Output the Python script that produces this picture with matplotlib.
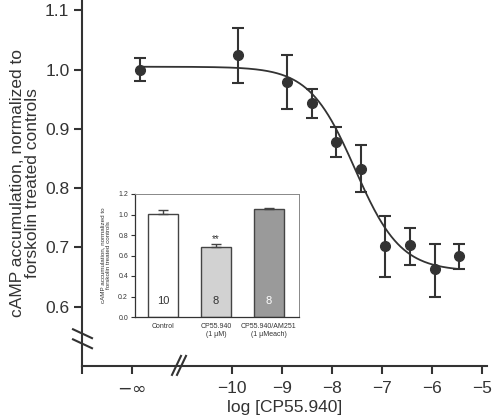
import numpy as np
import matplotlib.pyplot as plt

plt.rcParams['font.family'] = ['Liberation Sans', 'DejaVu Sans']

# main dose-response data (log concentration, -11.85 stands for -inf)
log_conc = [-11.85, -9.89, -8.9, -8.41, -7.92, -7.43, -6.95, -6.45, -5.95, -5.47]
camp = [1.000, 1.025, 0.980, 0.944, 0.878, 0.833, 0.703, 0.704, 0.664, 0.685]
err_hi = [1.019, 1.071, 1.025, 0.967, 0.904, 0.873, 0.753, 0.733, 0.706, 0.706]
err_lo = [0.981, 0.978, 0.934, 0.919, 0.852, 0.793, 0.650, 0.671, 0.617, 0.664]

# fitted curve parameters
top, bottom, log_ic50, hill = 1.005, 0.66, -7.54, 0.95

# inset bars
bar_labels = ['Control', 'CP55.940\n(1 µM)', 'CP55.940/AM251\n(1 µMeach)']
bar_vals = [1.002, 0.683, 1.054]
bar_err = [0.042, 0.026, 0.009]
bar_n = ['10', '8', '8']
bar_colors = ['white', '#d2d2d2', '#9a9a9a']
n_colors = ['#333333', '#333333', 'white']

xticks = [-12, -10, -9, -8, -7, -6, -5]
xticklabels = ['$-\\infty$', '−10', '−9', '−8', '−7', '−6', '−5']
yticks = [0.6, 0.7, 0.8, 0.9, 1.0, 1.1]

dark = '#333333'

fig = plt.figure(figsize=(4.93, 4.2), dpi=100)
ax = fig.add_axes([82/493, 54/420, 405/493, 366/420])

xs = np.linspace(log_conc[0], log_conc[-1], 300)
ys = bottom + (top - bottom) / (1 + 10**((xs - log_ic50) * hill))
ax.plot(xs, ys, color=dark, lw=1.3)

yerr = [np.array(camp) - np.array(err_lo), np.array(err_hi) - np.array(camp)]
ax.errorbar(log_conc, camp, yerr=yerr, fmt='o', color=dark, ms=7,
            elinewidth=1.5, capsize=4, capthick=1.5)

ax.set_xlim(-13, -4.9)
ax.set_ylim(0.5, 1.1176)
ax.set_xticks([-13] + xticks)
ax.set_xticklabels([''] + xticklabels, fontsize=12.5)
ax.set_yticks(yticks)
ax.set_yticklabels(['%.1f' % v for v in yticks], fontsize=12.5)
ax.tick_params(direction='out', length=6, width=1.5, color=dark, labelcolor=dark, pad=3)
ax.tick_params(axis='x', pad=5)
for side in ['top', 'right']:
    ax.spines[side].set_visible(False)
for side in ['left', 'bottom']:
    ax.spines[side].set_linewidth(1.5)
    ax.spines[side].set_color(dark)
ax.set_xlabel('log [CP55.940]', fontsize=12.5, color=dark, labelpad=3)
ax.set_ylabel('cAMP accumulation, normalized to\nforskolin treated controls',
              fontsize=12.5, color=dark, labelpad=4, linespacing=1.0)

# axis break marks
ax.plot([-13.18, -12.8], [0.562, 0.547], color=dark, lw=1.5, clip_on=False)
ax.plot([-13.18, -12.8], [0.545, 0.530], color=dark, lw=1.5, clip_on=False)
ax.plot([-11.2, -11.02], [0.485, 0.517], color=dark, lw=1.5, clip_on=False)
ax.plot([-11.1, -10.92], [0.485, 0.517], color=dark, lw=1.5, clip_on=False)

# inset
ins = fig.add_axes([135/493, 103/420, 164/493, 123/420])
pos = np.arange(len(bar_vals))
ins.bar(pos, bar_vals, width=0.57, color=bar_colors, edgecolor='#444444', lw=1.0,
        yerr=[[0, 0, 0], bar_err], capsize=3.5, error_kw=dict(ecolor='#444444', elinewidth=1.0, capthick=1.0))
for p, t, c in zip(pos, bar_n, n_colors):
    ins.text(p, 0.16, t, ha='center', va='center', fontsize=8, color=c)
ins.text(1, bar_vals[1] + bar_err[1] + 0.005, '**', ha='center', va='bottom', fontsize=7, color=dark)
ins.set_xlim(-0.53, 2.57)
ins.set_ylim(0, 1.2)
ins.set_yticks([0.0, 0.2, 0.4, 0.6, 0.8, 1.0, 1.2])
ins.set_yticklabels(['%.1f' % v for v in [0.0, 0.2, 0.4, 0.6, 0.8, 1.0, 1.2]], fontsize=5)
ins.set_xticks(pos)
ins.set_xticklabels(bar_labels, fontsize=5)
ins.tick_params(axis='y', direction='out', length=3, width=0.8, color=dark, labelcolor=dark, pad=2)
ins.tick_params(axis='x', length=0, labelcolor=dark, pad=4)
for side in ['top', 'right']:
    ins.spines[side].set_color('#888888')
    ins.spines[side].set_linewidth(0.7)
for side in ['left', 'bottom']:
    ins.spines[side].set_color(dark)
    ins.spines[side].set_linewidth(0.9)
ins.set_ylabel('cAMP accumulation, normalized to\nforskolin treated controls',
               fontsize=4.5, color=dark, labelpad=5, linespacing=1.2)

fig.savefig('out.png', dpi=100)
